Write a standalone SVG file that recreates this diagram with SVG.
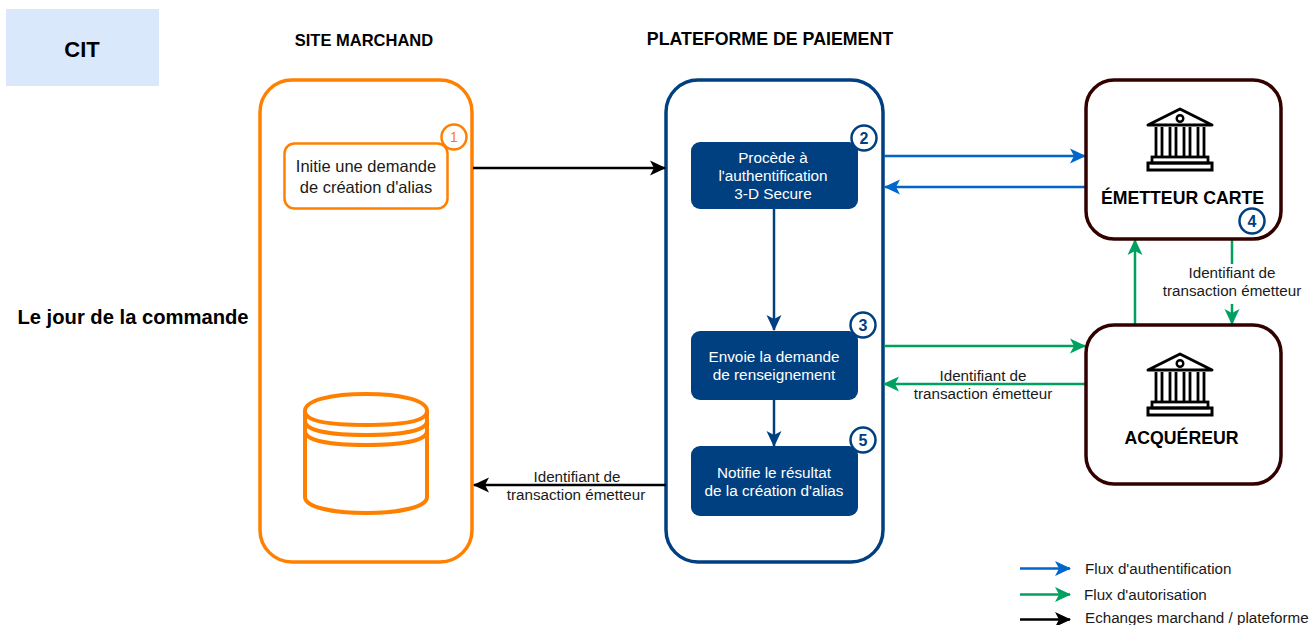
<svg xmlns="http://www.w3.org/2000/svg" xmlns:xlink="http://www.w3.org/1999/xlink" width="1309" height="625" viewBox="0 0 1309 625">
<style>
text{font-family:"Liberation Sans",Arial,sans-serif;text-anchor:middle;fill:#000}
.l{font-size:15.2px;fill:#1a1a1a}
.lg{font-size:15.2px;text-anchor:start;fill:#1a1a1a}
.w{font-size:15.3px;fill:#fff}
.s{font-size:16.500px;fill:#1a1a1a}
.c{font-size:16px;font-weight:700;fill:#004080}
.bt{font-size:17.700px;font-weight:700}
.e{fill:none;stroke-width:2.500;stroke-linecap:butt}
.blue{stroke:#0066cc}.green{stroke:#00a060}.black{stroke:#000}.navy{stroke:#004080}
.box{fill:#fff;stroke:#330000;stroke-width:3.500}
.step{fill:#004080}
.badge{fill:#fff;stroke:#004080;stroke-width:2.500}
.or{fill:none;stroke:#ff8000}
</style>
<defs>
<marker id="ab" markerUnits="userSpaceOnUse" markerWidth="17" markerHeight="16" refX="15" refY="8" orient="auto"><path d="M0 0.500L16 8L0 15.500L4 8Z" fill="#0066cc"/></marker>
<marker id="ag" markerUnits="userSpaceOnUse" markerWidth="17" markerHeight="16" refX="15" refY="8" orient="auto"><path d="M0 0.500L16 8L0 15.500L4 8Z" fill="#00a060"/></marker>
<marker id="ak" markerUnits="userSpaceOnUse" markerWidth="17" markerHeight="16" refX="15" refY="8" orient="auto"><path d="M0 0.500L16 8L0 15.500L4 8Z" fill="#000"/></marker>
<marker id="an" markerUnits="userSpaceOnUse" markerWidth="17" markerHeight="16" refX="15" refY="8" orient="auto"><path d="M0 0.500L16 8L0 15.500L4 8Z" fill="#004080"/></marker>
<g id="bank" fill="none" stroke="#000">
<path d="M-32 18L0 2L32 18Z" stroke-width="3" stroke-linejoin="round"/>
<circle cx="0" cy="11.500" r="3.300" stroke-width="2.400"/>
<path d="M-24 20V50M-18 20V50M-10 20V50M-4 20V50M4 20V50M10 20V50M18 20V50M24 20V50" stroke-width="2.800"/>
<rect x="-28" y="50" width="56" height="6" stroke-width="2.800"/>
<rect x="-32" y="56" width="64" height="7" stroke-width="3"/>
</g>
</defs>
<g id="title"><rect x="6" y="9" width="153" height="77" fill="#dae8fc"/><text x="82" y="57" style="font-size:22px;font-weight:700">CIT</text></g>
<text x="364" y="46" style="font-size:16.500px;font-weight:700">SITE MARCHAND</text>
<text x="770" y="45" style="font-size:17.800px;font-weight:700">PLATEFORME DE PAIEMENT</text>
<text x="133" y="324" style="font-size:20.200px;font-weight:700">Le jour de la commande</text>
<g id="site">
<rect x="260" y="80" width="212" height="482" rx="32" fill="#fff" stroke="#ff8000" stroke-width="3.500"/>
</g>
<g id="platform"><rect x="666" y="80" width="217" height="482" rx="32" fill="#fff" stroke="#004080" stroke-width="3.500"/></g>
<g id="connectors">
<path class="e black" d="M473 168H665" marker-end="url(#ak)"/>
<path class="e blue" d="M884 156H1085" marker-end="url(#ab)"/>
<path class="e blue" d="M1086 187H885" marker-end="url(#ab)"/>
<path class="e navy" d="M774 208V330" marker-end="url(#an)"/>
<path class="e navy" d="M774 400V446" marker-end="url(#an)"/>
<path class="e green" d="M884 346H1085" marker-end="url(#ag)"/>
<path class="e green" d="M1086 384H884" marker-end="url(#ag)"/>
<path class="e green" d="M1135 325V240" marker-end="url(#ag)"/>
<path class="e green" d="M1232 240V264M1232 304V324" marker-end="url(#ag)"/>
<path class="e black" d="M666 485H474" marker-end="url(#ak)"/>
<path class="e blue" d="M1020 568.500H1070" marker-end="url(#ab)"/>
<path class="e green" d="M1020 594.500H1070" marker-end="url(#ag)"/>
<path class="e black" d="M1020 619.500H1070" marker-end="url(#ak)"/>
</g>
<g id="edge-labels">
<text class="l" x="1232" y="278">Identifiant de</text><text class="l" x="1232" y="296">transaction émetteur</text>
<text class="l" x="983" y="381">Identifiant de</text><text class="l" x="983" y="399">transaction émetteur</text>
<text class="l" x="577" y="482">Identifiant de</text><text class="l" x="576" y="500">transaction émetteur</text>
</g>
<g id="step1"><rect x="284.500" y="143.500" width="163" height="65" rx="10" fill="#fff" stroke="#ff8000" stroke-width="2.500"/><text class="s" x="366" y="172">Initie une demande</text><text class="s" x="366" y="193">de création d'alias</text>
<circle cx="454" cy="137" r="12.500" fill="#fff" stroke="#ff8000" stroke-width="2.500"/><text x="454" y="142" style="font-size:14px;fill:#ff8000">1</text></g>
<g id="database">
<path class="or" style="stroke-width:4" d="M305 411C305 400 332 394 366 394C400 394 427 400 427 411C427 422 400 425 366 425C332 425 305 422 305 411ZM305 411V497C305 507 332 513 366 513C400 513 427 507 427 497V411M305 421C305 431 332 435 366 435C400 435 427 431 427 421M305 431C305 441 332 445 366 445C400 445 427 441 427 431"/>
</g>
<g id="step2"><rect x="691" y="142" width="167" height="67" rx="9" class="step"/><text class="w" x="773" y="163">Procède à</text><text class="w" x="773" y="181">l'authentification</text><text class="w" x="773" y="199">3-D Secure</text>
<circle cx="864" cy="138" r="12.500" class="badge"/><text class="c" x="864" y="144">2</text></g>
<g id="step3"><rect x="691" y="331" width="167" height="69" rx="9" class="step"/><text class="w" x="774" y="362">Envoie la demande</text><text class="w" x="774" y="380">de renseignement</text>
<circle cx="863" cy="325" r="12.500" class="badge"/><text class="c" x="863" y="331">3</text></g>
<g id="step5"><rect x="691" y="446" width="167" height="70" rx="9" class="step"/><text class="w" x="774" y="478">Notifie le résultat</text><text class="w" x="774" y="496">de la création d'alias</text>
<circle cx="863" cy="440" r="12.500" class="badge"/><text class="c" x="863" y="446">5</text></g>
<g id="issuer"><rect x="1086" y="80" width="195" height="159" rx="28" class="box"/><use xlink:href="#bank" href="#bank" x="1180" y="107"/><text class="bt" x="1182.500" y="204">ÉMETTEUR CARTE</text>
<circle cx="1252" cy="221" r="12.500" class="badge"/><text class="c" x="1252" y="227">4</text></g>
<g id="acquirer"><rect x="1086" y="325" width="195" height="159" rx="28" class="box"/><use xlink:href="#bank" href="#bank" x="1180" y="352"/><text class="bt" x="1181.500" y="444">ACQUÉREUR</text></g>
<g id="legend">
<text class="lg" x="1085" y="574">Flux d'authentification</text>
<text class="lg" x="1084" y="600">Flux d'autorisation</text>
<text class="lg" x="1085" y="623">Echanges marchand / plateforme</text>
</g>
</svg>
